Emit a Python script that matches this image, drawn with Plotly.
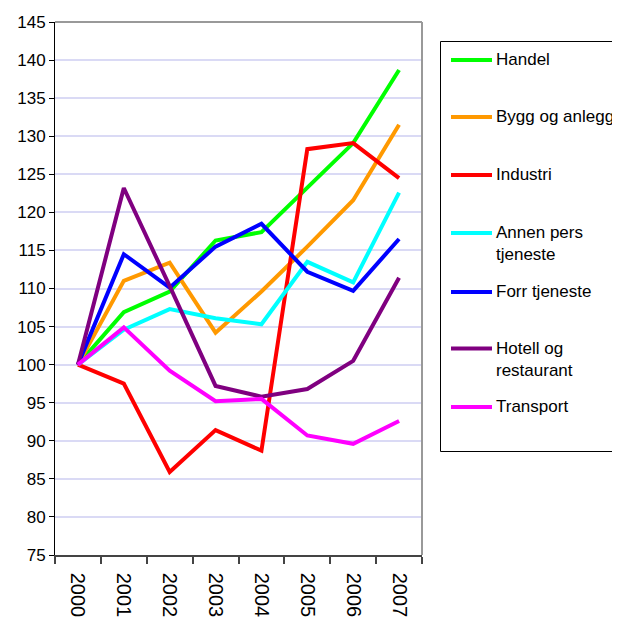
import plotly.graph_objects as go

years = ["2000", "2001", "2002", "2003", "2004", "2005", "2006", "2007"]

handel = [100, 106.9, 109.6, 116.3, 117.4, 123.2, 129.1, 138.7]
bygg = [100, 111.0, 113.4, 104.2, 109.6, 115.5, 121.6, 131.5]
industri = [100, 97.5, 85.9, 91.4, 88.7, 128.3, 129.1, 124.5]
annen = [100, 104.6, 107.3, 106.1, 105.3, 113.5, 110.8, 122.6]
forr = [100, 114.5, 110.1, 115.5, 118.5, 112.2, 109.7, 116.5]
hotell = [100, 123.2, 110.3, 97.2, 95.8, 96.8, 100.5, 111.4]
transport = [100, 104.9, 99.2, 95.2, 95.5, 90.7, 89.6, 92.6]

series_names = ["Handel", "Bygg og anlegg", "Industri", "Annen pers<br>tjeneste",
                "Forr tjeneste", "Hotell og<br>restaurant", "Transport"]
series_values = [handel, bygg, industri, annen, forr, hotell, transport]
colors = ["#00ff00", "#ff9900", "#ff0000", "#00ffff", "#0000ff", "#800080", "#ff00ff"]

FONT = "Liberation Sans, Arial, sans-serif"
FS = 17

fig = go.Figure()
for name, vals, col in zip(series_names, series_values, colors):
    fig.add_trace(go.Scatter(x=years, y=vals, mode="lines", name=name.replace("<br>", " "),
                             line=dict(color=col, width=4), showlegend=False))

# page has an 8px body margin; figure sized so it fills the 620x617 window
OFF = 8
W, H = 612, 609
ml, mr, mt, mb = 55 - OFF, W + OFF - 422, 22 - OFF, H + OFF - 555
pw, ph = W - ml - mr, H - mt - mb

def px_x(p):
    return (p - OFF - ml) / pw

def px_y(p):
    return 1 - (p - OFF - mt) / ph

# legend frame: left, top and bottom edges (right edge runs off the page)
bx0, bx1, by0, by1 = px_x(440.5), px_x(660), px_y(451.5), px_y(41.5)
frame = dict(type="line", xref="paper", yref="paper", line=dict(color="#000000", width=1), layer="above")
shapes = [
    dict(frame, x0=bx0, x1=bx0, y0=by0, y1=by1),
    dict(frame, x0=bx0, x1=bx1, y0=by1, y1=by1),
    dict(frame, x0=bx0, x1=bx1, y0=by0, y1=by0),
]
annotations = []
item_y = [60, 117, 175, 233, 292, 348.5, 407]
for name, col, yy in zip(series_names, colors, item_y):
    shapes.append(dict(type="line", xref="paper", yref="paper",
                       x0=px_x(451), x1=px_x(492), y0=px_y(yy), y1=px_y(yy),
                       line=dict(color=col, width=4)))
    annotations.append(dict(xref="paper", yref="paper", x=px_x(494), y=px_y(yy - 12),
                            xanchor="left", yanchor="top", text=name, showarrow=False,
                            align="left", font=dict(family=FONT, size=FS, color="#000000")))

# top/right grey border
shapes.append(dict(type="line", xref="paper", yref="paper", x0=0, x1=1, y0=1, y1=1,
                   line=dict(color="#999999", width=2)))
shapes.append(dict(type="line", xref="paper", yref="paper", x0=1, x1=1, y0=0, y1=1,
                   line=dict(color="#999999", width=2)))

fig.update_layout(
    width=W, height=H,
    margin=dict(l=ml, r=mr, t=mt, b=mb, pad=0, autoexpand=False),
    paper_bgcolor="white", plot_bgcolor="white",
    font=dict(family=FONT, size=FS, color="#000000"),
    shapes=shapes, annotations=annotations,
    showlegend=False,
)
fig.update_xaxes(type="category", range=[-0.5, 7.5], tickson="boundaries",
                 ticks="outside", ticklen=7, tickcolor="#444444", tickwidth=1.5,
                 tickangle=90, showgrid=False, showline=True, linecolor="#444444",
                 linewidth=1.5, zeroline=False, tickfont=dict(size=20),
                 ticklabelstandoff=12, automargin=False)
fig.update_yaxes(range=[75, 145], dtick=5, ticks="outside", ticklen=5,
                 tickcolor="#000000", tickwidth=1, showgrid=True,
                 gridcolor="#dadaf5", gridwidth=1.5, showline=True, linecolor="#000000",
                 linewidth=1, zeroline=False, tickfont=dict(size=FS), automargin=False)

fig.write_html("out.html")
